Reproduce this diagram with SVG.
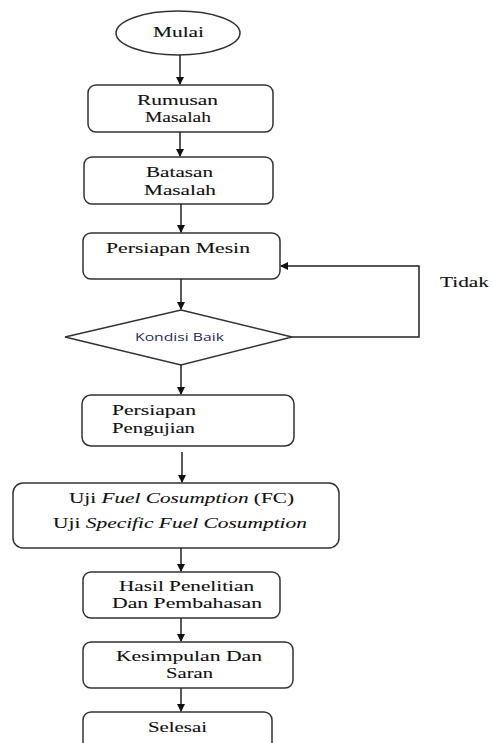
<svg xmlns="http://www.w3.org/2000/svg" width="493" height="743" viewBox="0 0 493 743">
<defs>
<marker id="ah" markerWidth="8" markerHeight="8" refX="7" refY="4" orient="auto" markerUnits="userSpaceOnUse">
<path d="M0,0 L8,4 L0,8 Z" fill="#111"/>
</marker>
<style>
.box{fill:#fff;stroke:#333;stroke-width:1.5}
.t{font-family:'Liberation Serif','DejaVu Serif',serif;font-size:15px;fill:#111;stroke:#111;stroke-width:0.1}
.s{font-family:'Open Sans','DejaVu Sans',sans-serif;font-size:11px;fill:#1c2a5a}
.c{fill:none;stroke:#222;stroke-width:1.5}
</style>
</defs>
<rect width="493" height="743" fill="#fff"/>
<g id="mulai">
<ellipse class="box" cx="178" cy="33" rx="62" ry="22"/>
<text class="t" x="153" y="37" textLength="51" lengthAdjust="spacingAndGlyphs">Mulai</text>
</g>
<g id="rumusan">
<rect class="box" x="88" y="85" width="185" height="47" rx="8"/>
<text class="t" x="137" y="105" textLength="81" lengthAdjust="spacingAndGlyphs">Rumusan</text>
<text class="t" x="145" y="122" textLength="66" lengthAdjust="spacingAndGlyphs">Masalah</text>
</g>
<g id="batasan">
<rect class="box" x="84" y="157" width="189" height="47" rx="8"/>
<text class="t" x="146" y="177" textLength="67" lengthAdjust="spacingAndGlyphs">Batasan</text>
<text class="t" x="144" y="195" textLength="72" lengthAdjust="spacingAndGlyphs">Masalah</text>
</g>
<g id="persiapan-mesin">
<rect class="box" x="83" y="233" width="197" height="46" rx="8"/>
<text class="t" x="106" y="253" textLength="144" lengthAdjust="spacingAndGlyphs">Persiapan Mesin</text>
</g>
<g id="kondisi">
<polygon class="box" points="181,310 292,337 181,365 65,337"/>
<text class="s" x="135" y="341" textLength="89" lengthAdjust="spacingAndGlyphs">Kondisi Baik</text>
</g>
<g id="persiapan-pengujian">
<rect class="box" x="82" y="395" width="212" height="51" rx="9"/>
<text class="t" x="112" y="415" textLength="84" lengthAdjust="spacingAndGlyphs">Persiapan</text>
<text class="t" x="112" y="433" textLength="83" lengthAdjust="spacingAndGlyphs">Pengujian</text>
</g>
<g id="uji">
<rect class="box" x="13" y="483" width="326" height="65" rx="10"/>
<text class="t" x="69" y="503" textLength="225" lengthAdjust="spacingAndGlyphs">Uji <tspan font-style="italic">Fuel Cosumption</tspan> (FC)</text>
<text class="t" x="53" y="528" textLength="254" lengthAdjust="spacingAndGlyphs">Uji <tspan font-style="italic">Specific Fuel Cosumption</tspan></text>
</g>
<g id="hasil">
<rect class="box" x="83" y="572" width="197" height="46" rx="8"/>
<text class="t" x="119" y="591" textLength="135" lengthAdjust="spacingAndGlyphs">Hasil Penelitian</text>
<text class="t" x="112" y="608" textLength="150" lengthAdjust="spacingAndGlyphs">Dan Pembahasan</text>
</g>
<g id="kesimpulan">
<rect class="box" x="83" y="642" width="210" height="46" rx="8"/>
<text class="t" x="116" y="661" textLength="146" lengthAdjust="spacingAndGlyphs">Kesimpulan Dan</text>
<text class="t" x="166" y="678" textLength="47" lengthAdjust="spacingAndGlyphs">Saran</text>
</g>
<g id="selesai">
<rect class="box" x="83" y="712" width="189" height="40" rx="8"/>
<text class="t" x="148" y="732" textLength="59" lengthAdjust="spacingAndGlyphs">Selesai</text>
</g>
<g id="tidak-label">
<text class="t" x="440" y="287" textLength="49" lengthAdjust="spacingAndGlyphs">Tidak</text>
</g>
<g id="connectors">
<line class="c" x1="180" y1="55" x2="180" y2="84" marker-end="url(#ah)"/>
<line class="c" x1="180" y1="132" x2="180" y2="156" marker-end="url(#ah)"/>
<line class="c" x1="181" y1="204" x2="181" y2="232" marker-end="url(#ah)"/>
<line class="c" x1="181" y1="279" x2="181" y2="309" marker-end="url(#ah)"/>
<polyline class="c" points="292,337 419,337 419,266 281,266" marker-end="url(#ah)"/>
<line class="c" x1="181" y1="365" x2="181" y2="394" marker-end="url(#ah)"/>
<line class="c" x1="182" y1="452" x2="182" y2="482" marker-end="url(#ah)"/>
<line class="c" x1="181" y1="548" x2="181" y2="571" marker-end="url(#ah)"/>
<line class="c" x1="181" y1="618" x2="181" y2="641" marker-end="url(#ah)"/>
<line class="c" x1="181" y1="688" x2="181" y2="711" marker-end="url(#ah)"/>
</g>
</svg>
